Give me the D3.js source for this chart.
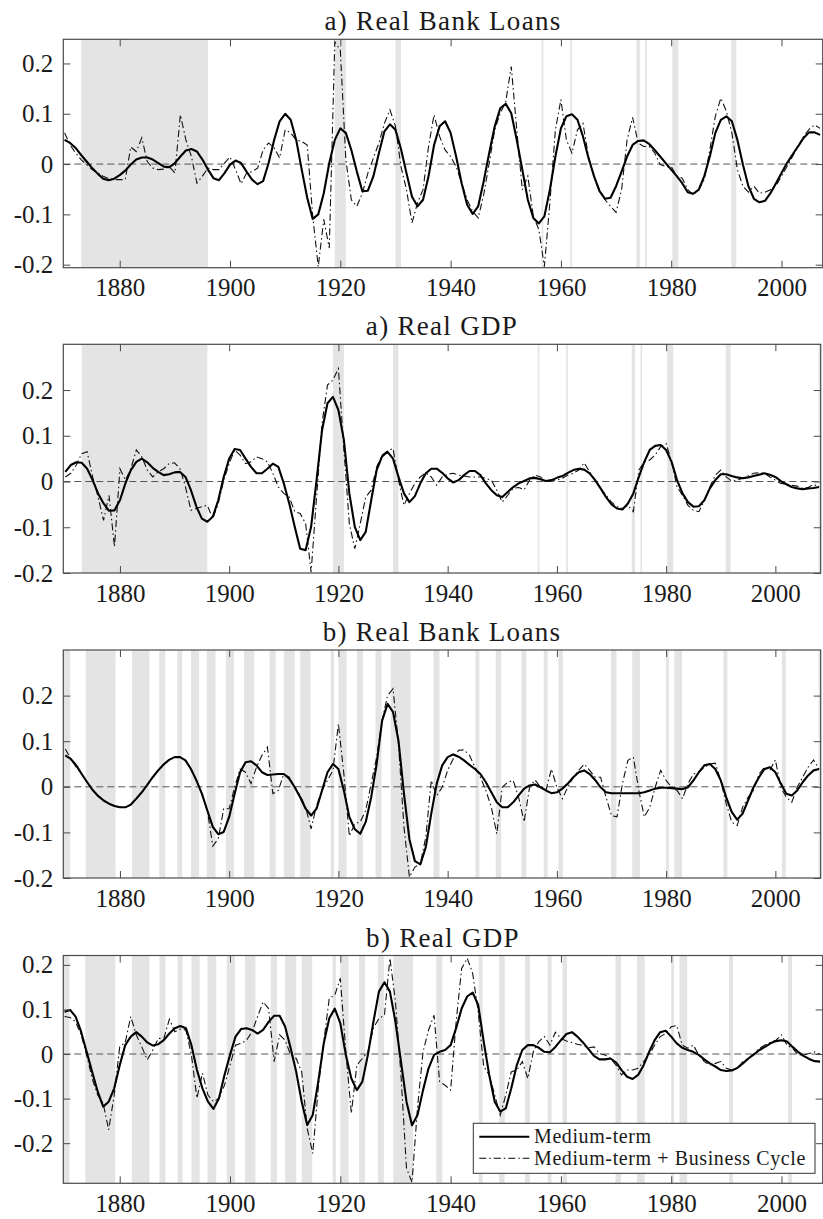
<!DOCTYPE html>
<html><head><meta charset="utf-8">
<script src="https://cdn.jsdelivr.net/npm/d3@7"></script>
<style>
body{margin:0;background:#fff}
svg{display:block}
svg text{font-family:"Liberation Serif","DejaVu Serif","Noto Serif",serif !important;fill:#1a1a1a}
</style>
</head><body>
<svg id="chart" width="823" height="1219"></svg>
<script>
// ---------------- DATA ----------------
const firstYear = 1870;
const titles = ["a) Real Bank Loans", "a) Real GDP", "b) Real Bank Loans", "b) Real GDP"];
const legendLabels = ["Medium-term", "Medium-term + Business Cycle"];
const xTickValues = [1880, 1900, 1920, 1940, 1960, 1980, 2000];
const yTickValues = [-0.2, -0.1, 0, 0.1, 0.2];
const yTickLabels = ["-0.2", "-0.1", "0", "0.1", "0.2"];

// crisis periods shaded in panels a)
const crisisStart = [1873, 1919, 1930, 1956.5, 1961.7, 1973.7, 1975.3, 1980.2, 1990.9, 2007.9];
const crisisEnd   = [1896, 1921, 1931, 1956.8, 1962.0, 1974.3, 1975.6, 1981.3, 1991.8, 2009.5];
// NBER recessions shaded in panels b)
const recessionStart = [1869.4,1873.75,1882.2,1887.2,1890.5,1893.0,1895.9,1899.4,1902.7,1907.4,1910.0,1913.0,1918.6,1920.0,1923.4,1926.8,1929.6,1937.4,1945.1,1948.8,1953.5,1957.6,1960.3,1969.9,1973.8,1980.0,1981.5,1990.5,2001.2,2007.9];
const recessionEnd   = [1870.9,1879.2,1885.4,1888.3,1891.4,1894.5,1897.5,1900.9,1904.6,1908.5,1912.0,1914.9,1919.2,1921.5,1924.5,1927.9,1933.2,1938.5,1945.8,1949.8,1954.4,1958.3,1961.1,1970.9,1975.2,1980.5,1982.9,1991.2,2001.9,2009.5];

// a) Real Bank Loans, 1870-2007
const loansA_medium = [
 0.048,0.042,0.032,0.018,0.005,-0.008,-0.019,-0.029,-0.032,-0.029,
 -0.022,-0.013,-0.001,0.009,0.013,0.013,0.009,0.002,-0.005,-0.006,
 0.002,0.015,0.027,0.030,0.025,0.009,-0.011,-0.028,-0.032,-0.018,
 -0.001,0.007,0.002,-0.015,-0.031,-0.040,-0.034,0.002,0.048,0.085,
 0.100,0.088,0.048,-0.011,-0.067,-0.109,-0.100,-0.058,0.002,0.048,
 0.071,0.062,0.028,-0.015,-0.054,-0.053,-0.024,0.022,0.065,0.079,
 0.068,0.030,-0.018,-0.065,-0.084,-0.071,-0.024,0.038,0.075,0.085,
 0.062,0.015,-0.038,-0.081,-0.099,-0.084,-0.034,0.022,0.075,0.111,
 0.120,0.101,0.048,-0.011,-0.071,-0.107,-0.118,-0.104,-0.051,0.015,
 0.071,0.095,0.099,0.088,0.055,0.012,-0.024,-0.054,-0.069,-0.067,
 -0.044,-0.015,0.015,0.038,0.046,0.047,0.040,0.028,0.015,0.002,
 -0.011,-0.024,-0.038,-0.056,-0.059,-0.051,-0.024,0.015,0.062,0.088,
 0.095,0.085,0.048,-0.001,-0.044,-0.069,-0.076,-0.073,-0.058,-0.038,
 -0.018,0.002,0.019,0.035,0.052,0.063,0.063,0.058];
const loansA_business = [
 0.062,0.038,0.022,0.009,-0.001,-0.011,-0.018,-0.024,-0.029,-0.031,
 -0.031,-0.031,0.034,0.025,0.052,0.005,-0.008,-0.011,-0.010,-0.005,
 -0.018,0.098,0.048,0.015,-0.038,-0.024,-0.008,-0.011,-0.011,0.002,
 0.014,-0.011,-0.039,-0.018,-0.015,-0.008,0.028,0.042,0.032,0.012,
 0.068,0.062,0.048,0.045,0.038,-0.104,-0.204,-0.110,-0.167,0.243,
 0.227,0.009,-0.071,-0.084,-0.058,-0.018,0.012,0.042,0.081,0.108,
 0.075,-0.005,-0.051,-0.117,-0.077,-0.051,0.035,0.098,0.055,0.028,
 0.015,-0.005,-0.038,-0.071,-0.094,-0.107,-0.061,0.002,0.068,0.101,
 0.124,0.194,0.068,-0.051,-0.024,-0.104,-0.130,-0.204,-0.077,0.068,
 0.128,0.048,0.022,0.068,0.081,0.015,-0.024,-0.051,-0.071,-0.084,
 -0.096,-0.051,0.048,0.093,0.042,0.035,0.035,0.022,-0.001,-0.005,
 -0.005,-0.024,-0.028,-0.051,-0.061,-0.051,-0.031,0.028,0.095,0.131,
 0.105,0.062,-0.011,-0.044,-0.056,-0.044,-0.058,-0.056,-0.051,-0.043,
 -0.024,-0.005,0.015,0.035,0.055,0.069,0.078,0.071];

// a) Real GDP, 1870-2008
const gdpA_medium = [
 0.021,0.036,0.042,0.041,0.028,0.003,-0.026,-0.048,-0.064,-0.063,
 -0.041,-0.004,0.025,0.043,0.050,0.042,0.030,0.021,0.014,0.016,
 0.020,0.021,0.010,-0.019,-0.055,-0.081,-0.088,-0.077,-0.041,0.010,
 0.050,0.071,0.069,0.050,0.032,0.018,0.018,0.028,0.039,0.032,
 -0.004,-0.048,-0.099,-0.147,-0.150,-0.099,0.003,0.112,0.171,0.185,
 0.156,0.091,-0.026,-0.099,-0.128,-0.110,-0.041,0.025,0.055,0.065,
 0.050,0.010,-0.026,-0.045,-0.032,-0.004,0.018,0.028,0.028,0.019,
 0.007,-0.002,0.003,0.014,0.023,0.023,0.014,-0.004,-0.019,-0.030,
 -0.034,-0.023,-0.012,-0.004,0.001,0.007,0.008,0.005,0.001,0.003,
 0.008,0.012,0.019,0.025,0.028,0.026,0.018,0.003,-0.015,-0.034,
 -0.050,-0.059,-0.061,-0.048,-0.026,0.010,0.043,0.069,0.078,0.080,
 0.069,0.043,0.003,-0.026,-0.045,-0.055,-0.054,-0.041,-0.015,0.003,
 0.016,0.016,0.012,0.009,0.007,0.009,0.012,0.015,0.018,0.015,
 0.010,0.001,-0.006,-0.012,-0.015,-0.017,-0.015,-0.014,-0.012];
const gdpA_business = [
 0.010,0.018,0.036,0.061,0.065,0.010,-0.034,-0.085,-0.030,-0.143,
 0.028,0.003,0.028,0.069,0.054,0.025,0.010,0.021,0.028,0.039,
 0.041,0.028,-0.012,-0.063,-0.059,-0.055,-0.052,-0.081,-0.048,0.003,
 0.039,0.069,0.058,0.039,0.043,0.054,0.050,0.043,0.018,-0.012,
 -0.026,-0.034,-0.066,-0.070,-0.092,-0.198,-0.034,0.127,0.211,0.222,
 0.247,0.069,-0.092,-0.147,-0.092,-0.034,-0.019,0.032,0.058,0.067,
 0.072,0.003,-0.052,-0.026,-0.004,0.010,0.019,0.010,-0.008,0.010,
 0.016,0.018,0.014,0.012,0.010,0.010,0.010,0.007,0.003,-0.019,
 -0.045,-0.030,-0.015,-0.013,-0.018,0.003,0.014,0.010,-0.001,0.003,
 0.003,0.007,0.014,0.018,0.025,0.041,0.021,0.003,-0.015,-0.030,
 -0.045,-0.055,-0.059,-0.052,-0.066,0.025,0.043,0.047,0.058,0.076,
 0.083,0.043,-0.012,-0.030,-0.052,-0.063,-0.066,-0.041,-0.012,0.014,
 0.025,0.010,0.001,0.003,0.007,0.012,0.018,0.019,0.018,0.010,
 0.003,-0.004,-0.006,-0.008,-0.010,-0.015,-0.013,-0.006,-0.012];

// b) Real Bank Loans, 1870-2008
const loansB_medium = [
 0.069,0.061,0.047,0.028,0.010,-0.007,-0.020,-0.030,-0.037,-0.042,
 -0.045,-0.045,-0.039,-0.026,-0.012,0.004,0.021,0.036,0.049,0.059,
 0.065,0.065,0.058,0.039,0.014,-0.015,-0.052,-0.088,-0.104,-0.099,
 -0.066,-0.015,0.032,0.054,0.056,0.047,0.032,0.026,0.027,0.028,
 0.028,0.018,-0.001,-0.023,-0.048,-0.063,-0.048,-0.008,0.032,0.050,
 0.039,-0.008,-0.066,-0.093,-0.103,-0.077,-0.023,0.050,0.145,0.182,
 0.164,0.101,-0.015,-0.115,-0.163,-0.170,-0.132,-0.059,0.007,0.047,
 0.065,0.071,0.066,0.058,0.048,0.039,0.028,0.010,-0.012,-0.034,
 -0.045,-0.045,-0.034,-0.019,-0.004,0.003,0.005,-0.001,-0.008,-0.014,
 -0.012,-0.004,0.007,0.021,0.032,0.036,0.028,0.015,-0.001,-0.012,
 -0.014,-0.014,-0.014,-0.014,-0.014,-0.014,-0.012,-0.008,-0.004,-0.002,
 -0.002,-0.003,-0.004,-0.005,-0.001,0.014,0.032,0.047,0.050,0.039,
 0.014,-0.023,-0.055,-0.072,-0.059,-0.030,-0.001,0.021,0.039,0.043,
 0.032,0.007,-0.015,-0.019,-0.008,0.010,0.025,0.036,0.039];
const loansB_business = [
 0.083,0.061,0.043,0.028,0.010,-0.007,-0.020,-0.030,-0.037,-0.042,
 -0.045,-0.045,-0.039,-0.026,-0.012,0.004,0.021,0.036,0.049,0.059,
 0.065,0.065,0.058,0.039,0.014,-0.015,-0.052,-0.130,-0.114,-0.048,
 -0.048,-0.001,0.039,0.032,0.007,0.043,0.069,0.087,-0.015,-0.008,
 0.028,0.021,-0.001,-0.019,-0.045,-0.092,-0.041,-0.008,0.014,0.036,
 0.138,0.028,-0.108,-0.081,-0.077,-0.052,0.007,0.065,0.145,0.200,
 0.215,0.094,-0.088,-0.198,-0.176,-0.169,-0.110,0.014,-0.019,-0.001,
 0.036,0.061,0.080,0.081,0.069,0.043,0.021,-0.008,-0.045,-0.103,
 -0.001,0.010,0.014,-0.023,-0.077,-0.001,0.015,-0.001,-0.008,0.039,
 -0.001,-0.026,-0.001,0.021,0.036,0.050,0.036,0.021,0.021,-0.023,
 -0.063,-0.066,0.007,0.058,0.065,-0.008,-0.066,-0.045,-0.001,0.036,
 0.014,-0.001,-0.008,-0.026,0.007,0.028,0.032,0.043,0.050,0.052,
 0.014,-0.037,-0.077,-0.085,-0.045,-0.023,-0.008,0.028,0.043,0.036,
 0.059,-0.001,-0.023,-0.034,-0.001,0.021,0.043,0.059,0.039];

// b) Real GDP, 1870-2007
const gdpB_medium = [
 0.095,0.099,0.084,0.050,0.005,-0.040,-0.084,-0.118,-0.107,-0.077,
 -0.025,0.020,0.039,0.049,0.039,0.026,0.019,0.022,0.031,0.046,
 0.058,0.063,0.058,0.020,-0.036,-0.077,-0.107,-0.123,-0.099,-0.047,
 -0.002,0.039,0.056,0.058,0.054,0.046,0.054,0.072,0.086,0.086,
 0.061,0.013,-0.040,-0.107,-0.159,-0.137,-0.062,0.024,0.080,0.102,
 0.069,-0.002,-0.055,-0.081,-0.062,-0.002,0.072,0.140,0.161,0.140,
 0.072,-0.017,-0.107,-0.160,-0.137,-0.081,-0.032,-0.002,0.005,0.009,
 0.020,0.058,0.102,0.129,0.138,0.110,0.028,-0.047,-0.107,-0.129,
 -0.122,-0.077,-0.025,0.009,0.020,0.020,0.014,0.005,0.004,0.016,
 0.031,0.045,0.049,0.039,0.026,0.011,-0.004,-0.012,-0.012,-0.010,
 -0.019,-0.036,-0.051,-0.056,-0.047,-0.025,0.005,0.031,0.049,0.052,
 0.039,0.024,0.014,0.009,0.005,-0.002,-0.012,-0.021,-0.028,-0.036,
 -0.038,-0.037,-0.031,-0.021,-0.010,-0.001,0.009,0.016,0.024,0.029,
 0.031,0.028,0.016,0.005,-0.004,-0.011,-0.016,-0.017];
const gdpB_business = [
 0.084,0.082,0.072,0.043,-0.002,-0.055,-0.092,-0.111,-0.170,-0.092,
 0.016,0.026,0.084,0.043,0.016,-0.013,0.009,0.035,0.035,0.078,
 0.050,0.056,0.054,-0.002,-0.099,-0.043,-0.092,-0.107,-0.099,-0.070,
 -0.025,0.020,0.024,0.031,0.050,0.084,0.117,0.102,-0.017,0.043,
 0.031,-0.002,-0.010,-0.040,-0.167,-0.223,-0.077,0.028,0.125,0.132,
 0.170,0.005,-0.133,-0.025,-0.010,0.005,0.058,0.080,0.087,0.215,
 0.117,-0.047,-0.256,-0.288,-0.120,0.005,0.054,0.087,-0.062,-0.070,
 -0.081,0.072,0.192,0.215,0.181,0.095,-0.028,-0.047,-0.092,-0.137,
 -0.092,-0.040,-0.036,-0.017,-0.055,0.005,0.028,0.039,0.020,0.049,
 0.035,0.029,0.026,0.022,0.019,0.014,0.016,0.001,-0.002,-0.010,
 -0.025,-0.047,-0.036,-0.036,-0.032,-0.017,-0.002,0.020,0.039,0.046,
 0.061,0.064,0.020,0.013,0.020,-0.002,-0.017,-0.025,-0.021,-0.017,
 -0.032,-0.036,-0.032,-0.017,-0.010,0.001,0.013,0.020,0.026,0.031,
 0.043,0.020,0.013,-0.002,-0.002,0.001,0.005,0.000];

// ---------------- LAYOUT ----------------
const panels = [
  {title: titles[0], medium: loansA_medium, business: loansA_business, bs: crisisStart, be: crisisEnd,
   top: 39.3, bottom: 267.7, left: 63.3, right: 822.7, xDomain: [1869.77, 2007.47], yDomain: [-0.206, 0.248]},
  {title: titles[1], medium: gdpA_medium, business: gdpA_business, bs: crisisStart, be: crisisEnd,
   top: 344.3, bottom: 573, left: 63.3, right: 820.7, xDomain: [1869.63, 2008.3], yDomain: [-0.2, 0.3]},
  {title: titles[2], medium: loansB_medium, business: loansB_business, bs: recessionStart, be: recessionEnd,
   top: 650, bottom: 878, left: 63.3, right: 820.7, xDomain: [1869.63, 2008.3], yDomain: [-0.2, 0.3]},
  {title: titles[3], medium: gdpB_medium, business: gdpB_business, bs: recessionStart, be: recessionEnd,
   top: 955.5, bottom: 1183.3, left: 63.3, right: 822.7, xDomain: [1869.77, 2007.47], yDomain: [-0.29, 0.221], legend: true}
];

const FONT = "'Liberation Serif','DejaVu Serif','Noto Serif',serif";
const svg = d3.select("#chart");
const frameColor = "#4a4a4a";
const shadeColor = "#e4e4e4";
const dashDot = "7,3,1.5,3";

panels.forEach((p, i) => {
  const x = d3.scaleLinear().domain(p.xDomain).range([p.left, p.right]);
  const y = d3.scaleLinear().domain(p.yDomain).range([p.bottom, p.top]);
  const g = svg.append("g").attr("font-family", FONT);
  const clipId = "clip" + i;
  svg.append("clipPath").attr("id", clipId).append("rect")
    .attr("x", p.left).attr("y", p.top).attr("width", p.right - p.left).attr("height", p.bottom - p.top);
  const plot = g.append("g").attr("clip-path", `url(#${clipId})`);

  const bands = p.bs.map((s, k) => [s, p.be[k]]);
  plot.selectAll("rect.band").data(bands).join("rect")
    .attr("class", "band")
    .attr("x", d => x(d[0])).attr("width", d => Math.max(1.2, x(d[1]) - x(d[0])))
    .attr("y", p.top).attr("height", p.bottom - p.top)
    .attr("fill", shadeColor);

  plot.append("line").attr("x1", p.left).attr("x2", p.right).attr("y1", y(0)).attr("y2", y(0))
    .attr("stroke", "#555").attr("stroke-width", 1).attr("stroke-dasharray", "7,4");

  const line = d3.line().x((d, k) => x(firstYear + k)).y(d => y(d));
  plot.append("path").attr("d", line(p.business)).attr("fill", "none")
    .attr("stroke", "#111").attr("stroke-width", 1.1).attr("stroke-dasharray", dashDot);
  plot.append("path").attr("d", line(p.medium)).attr("fill", "none")
    .attr("stroke", "#000").attr("stroke-width", 2.1).attr("stroke-linejoin", "round");

  const tickLen = 7;
  const fmt = d => yTickLabels[yTickValues.indexOf(d)];
  const ax = g.append("g");
  const bottomAx = ax.append("g").attr("transform", `translate(0,${p.bottom})`)
    .call(d3.axisBottom(x).tickValues(xTickValues).tickFormat(d3.format("d")).tickSizeInner(-tickLen).tickSizeOuter(0).tickPadding(11));
  const topAx = ax.append("g").attr("transform", `translate(0,${p.top})`)
    .call(d3.axisTop(x).tickValues(xTickValues).tickFormat("").tickSizeInner(-tickLen).tickSizeOuter(0));
  const leftAx = ax.append("g").attr("transform", `translate(${p.left},0)`)
    .call(d3.axisLeft(y).tickValues(yTickValues).tickFormat(fmt).tickSizeInner(-tickLen).tickSizeOuter(0).tickPadding(10));
  const rightAx = ax.append("g").attr("transform", `translate(${p.right},0)`)
    .call(d3.axisRight(y).tickValues(yTickValues).tickFormat("").tickSizeInner(-tickLen).tickSizeOuter(0));
  [bottomAx, topAx, leftAx, rightAx].forEach(a => {
    a.attr("font-family", FONT);
    a.select(".domain").remove();
    a.selectAll(".tick line").attr("stroke", frameColor).attr("stroke-width", 1);
    a.selectAll(".tick text").attr("font-family", FONT).attr("font-size", 25).attr("fill", "#1a1a1a");
  });
  g.append("rect").attr("x", p.left).attr("y", p.top).attr("width", p.right - p.left).attr("height", p.bottom - p.top)
    .attr("fill", "none").attr("stroke", frameColor).attr("stroke-width", 1.2);

  g.append("text").attr("x", (p.left + p.right) / 2).attr("y", p.top - 9)
    .attr("font-family", FONT)
    .attr("text-anchor", "middle").attr("font-size", 27).attr("letter-spacing", 1.3).text(p.title);

  if (p.legend) {
    const lx = 473.3, ly = 1123.3, lw = 341.7, lh = 50;
    const lg = g.append("g");
    lg.append("rect").attr("x", lx).attr("y", ly).attr("width", lw).attr("height", lh)
      .attr("fill", "#fff").attr("stroke", "#333").attr("stroke-width", 1);
    const rows = [{label: legendLabels[0], w: 2.1, dash: null, cy: ly + 13.4},
                  {label: legendLabels[1], w: 1.1, dash: dashDot, cy: ly + 35}];
    rows.forEach(r => {
      const l = lg.append("line").attr("x1", lx + 6).attr("x2", lx + 56).attr("y1", r.cy).attr("y2", r.cy)
        .attr("stroke", "#000").attr("stroke-width", r.w);
      if (r.dash) l.attr("stroke-dasharray", r.dash);
      lg.append("text").attr("x", lx + 60.7).attr("y", r.cy).attr("dy", "0.33em")
        .attr("font-family", FONT)
        .attr("font-size", 20).attr("letter-spacing", 0.6).text(r.label);
    });
  }
});
</script>
</body></html>
